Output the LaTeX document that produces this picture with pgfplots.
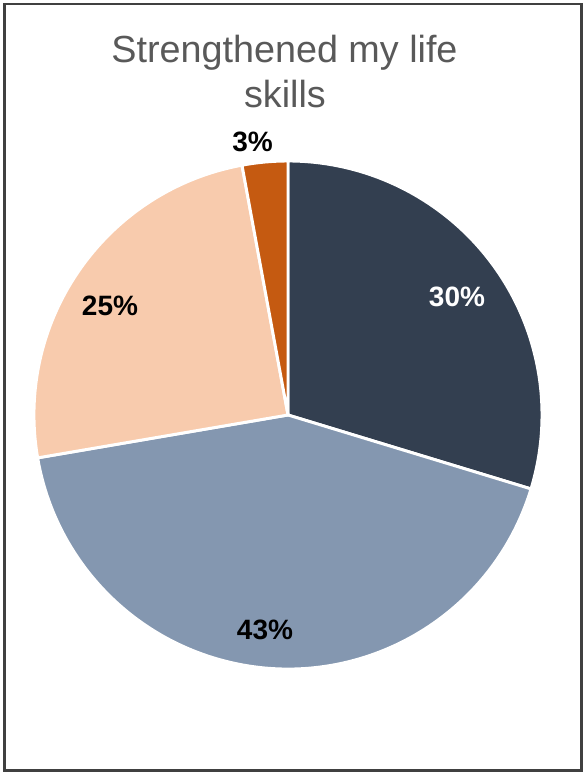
\documentclass[border=0pt]{standalone}
\usepackage{pgfplots}
\usepackage{pgfplotstable}
\pgfplotsset{compat=1.18}
\usepackage{fontspec}
\setmainfont{Liberation Sans}
\definecolor{navyslice}{HTML}{333F50}
\definecolor{blueslice}{HTML}{8497B0}
\definecolor{peachslice}{HTML}{F8CBAD}
\definecolor{rustslice}{HTML}{C55A11}
\definecolor{titlegray}{HTML}{595959}
\definecolor{framegray}{HTML}{404040}

\pgfplotstableread{
share slicecolor
29.7 navyslice
42.6 blueslice
24.8 peachslice
2.9 rustslice
}\pietable

\begin{document}
\begin{tikzpicture}
\begin{axis}[
  scale only axis,
  width=438.75pt, height=579.75pt,
  xmin=0, xmax=585, ymin=0, ymax=773,
  hide axis, clip=false]
\fill[white] (axis cs:0,0) rectangle (axis cs:585,773);
\draw[framegray, line width=1.6pt] (axis cs:4.5,2.5) rectangle (axis cs:581.5,769);
\def\cum{0}
\pgfplotsforeachungrouped \i in {0,...,3}{%
  \pgfplotstablegetelem{\i}{share}\of\pietable \let\sliceval\pgfplotsretval
  \pgfplotstablegetelem{\i}{slicecolor}\of\pietable \let\slicecol\pgfplotsretval
  \pgfmathsetmacro\angA{90-3.6*\cum}%
  \pgfmathsetmacro\angB{90-3.6*(\cum+\sliceval)}%
  \pgfmathsetmacro\cum{\cum+\sliceval}%
  \edef\cmd{\noexpand\fill[\slicecol, draw=white, line width=2.2pt, line join=round] (axis cs:288,358) -- ++(\angA:190.5pt) arc[start angle=\angA, end angle=\angB, radius=190.5pt] -- cycle;}%
  \cmd
}
\node[anchor=base, text=titlegray, font=\fontsize{28.3}{34}\selectfont] at (axis cs:284.5,710) {Strengthened my life};
\node[anchor=base, text=titlegray, font=\fontsize{28.3}{34}\selectfont] at (axis cs:285,665) {skills};
\node[anchor=base, text=white, font=\bfseries\fontsize{21}{21}\selectfont] at (axis cs:457,466.3) {30\%};
\node[anchor=base, text=black, font=\bfseries\fontsize{21}{21}\selectfont] at (axis cs:265,133) {43\%};
\node[anchor=base, text=black, font=\bfseries\fontsize{21}{21}\selectfont] at (axis cs:110,457) {25\%};
\node[anchor=base, text=black, font=\bfseries\fontsize{21}{21}\selectfont] at (axis cs:252.5,621) {3\%};
\end{axis}
\end{tikzpicture}
\end{document}
